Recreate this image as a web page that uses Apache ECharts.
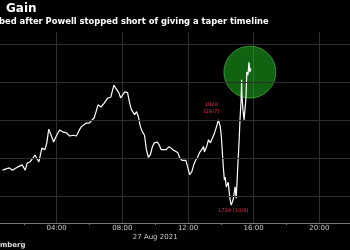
<!DOCTYPE html>
<html><head><meta charset="utf-8">
<script src="https://cdn.jsdelivr.net/npm/echarts@6/dist/echarts.min.js"></script>
<style>html,body{margin:0;padding:0;background:#000;overflow:hidden;width:350px;height:250px;}#c{position:absolute;left:-12px;top:0;width:400px;height:250px;}</style>
</head><body><div id="c"></div>
<script>
const titleText = 'Gain';
const subtitleText = 'bed after Powell stopped short of giving a taper timeline';
const sourceText = 'mberg';
const dateLabel = '27 Aug 2021';
const xTickLabels = ['00:00','04:00','08:00','12:00','16:00','20:00','24:00'];
const gridValues = [1785, 1790, 1795, 1800, 1805];

const times = ['00:42','01:07','01:18','01:36','01:54','02:05','02:12','02:23','02:30','02:41','02:48','02:55','03:06','03:17','03:24','03:31','03:42','03:49','04:00','04:11','04:25','04:36','04:47','05:01','05:12','05:23','05:30','05:37','05:48','05:59','06:06','06:17','06:24','06:31','06:42','06:53','07:00','07:07','07:18','07:22','07:29','07:36','07:47','07:54','08:01','08:09','08:19','08:27','08:34','08:45','08:52','08:59','09:06','09:14','09:21','09:28','09:35','09:42','09:50','09:57','10:08','10:15','10:22','10:29','10:40','10:51','10:58','11:05','11:12','11:23','11:30','11:38','11:45','11:52','11:59','12:06','12:14','12:21','12:28','12:35','12:42','12:50','12:57','13:00','13:08','13:15','13:22','13:29','13:37','13:44','13:51','13:58','14:02','14:05','14:09','14:13','14:16','14:20','14:27','14:31','14:34','14:38','14:41','14:45','14:52','14:56','14:59','15:03','15:07','15:10','15:14','15:16','15:17','15:21','15:25','15:28','15:32','15:35','15:39','15:43','15:46','15:50'];
const prices = [1788.4,1788.7,1788.4,1788.8,1789.1,1788.4,1789.3,1789.5,1789.7,1790.4,1789.9,1789.5,1791.3,1791.1,1792.0,1793.8,1792.8,1792.1,1793.0,1793.7,1793.4,1793.3,1792.9,1793.0,1792.9,1793.7,1794.1,1794.0,1794.6,1794.6,1794.6,1795.3,1796.1,1797.0,1796.7,1797.2,1797.0,1797.9,1798.0,1798.6,1799.6,1799.2,1798.6,1797.9,1798.3,1798.7,1798.6,1797.2,1796.3,1795.7,1796.1,1795.4,1794.1,1793.4,1793.0,1791.1,1790.1,1790.4,1791.5,1792.0,1792.1,1791.7,1791.1,1791.3,1791.1,1791.5,1791.5,1791.1,1791.3,1790.7,1790.0,1789.7,1789.5,1789.7,1788.8,1787.8,1788.2,1789.1,1789.7,1790.1,1790.7,1791.1,1791.5,1790.8,1791.5,1792.4,1792.0,1792.6,1793.3,1794.1,1795.0,1794.1,1792.8,1791.1,1788.8,1787.1,1787.5,1786.2,1786.8,1785.4,1784.5,1783.8,1784.1,1784.5,1786.2,1784.7,1786.7,1789.7,1792.4,1795.0,1797.6,1800.3,1798.3,1796.3,1795.0,1796.3,1798.0,1801.3,1800.9,1802.6,1801.3,1801.8];

const highNote = {time: '13:51', price: 1795.0, text: '1828\n(29/7)'};
const lowNote = {time: '14:38', price: 1783.8, text: '1729 (10/8)'};
const circleCenter = {time: '15:46', price: 1801.3};

const toHours = s => Number(s.slice(0, 2)) + Number(s.slice(3)) / 60;
const lineData = times.map((t, i) => [toHours(t), prices[i]]);

const chart = echarts.init(document.getElementById('c'), null, {renderer: 'canvas'});
const font = 'DejaVu Sans';
const shift = 12;
chart.setOption({
  backgroundColor: '#000',
  animation: false,
  grid: {left: 0, right: 0, top: 32, bottom: 27},
  xAxis: [{
    type: 'value', min: 0, max: 24, interval: 4,
    axisLine: {show: true, lineStyle: {color: '#7a7a7a', width: 1}},
    axisTick: {show: false},
    minorTick: {show: true, splitNumber: 2, length: 2, lineStyle: {color: '#7a7a7a'}},
    axisLabel: {color: '#c8c8c8', fontSize: 7, fontFamily: font, margin: 2,
      showMinLabel: false, showMaxLabel: false,
      formatter: v => xTickLabels[Math.round(v / 4)] || ''},
    splitLine: {show: true, lineStyle: {color: '#2e2e2e', width: 1}}
  }, {
    type: 'value', min: 0, max: 24, interval: 10, position: 'bottom',
    axisLine: {show: false}, axisTick: {show: false}, splitLine: {show: false},
    axisLabel: {color: '#c8c8c8', fontSize: 7, fontFamily: font, margin: 11,
      formatter: v => (v === 10 ? dateLabel : '')}
  }],
  yAxis: {
    type: 'value', min: 1781.45, max: 1806.58,
    axisLine: {show: false}, axisTick: {show: false}, axisLabel: {show: false},
    splitLine: {show: false}
  },
  series: [{
    type: 'line',
    data: lineData,
    showSymbol: false,
    lineStyle: {color: '#ffffff', width: 1.2},
    silent: true,
    markLine: {
      silent: true, symbol: 'none', label: {show: false},
      lineStyle: {color: '#2e2e2e', width: 1, type: 'solid'},
      data: gridValues.map(v => ({yAxis: v}))
    },
    markPoint: {
      symbol: 'circle', symbolSize: 1, itemStyle: {color: 'rgba(0,0,0,0)'},
      data: [
        {coord: [toHours(highNote.time), highNote.price],
          label: {show: true, formatter: highNote.text, position: 'top', distance: 4, offset: [-7, 0],
            color: '#e0304a', fontSize: 5.2, lineHeight: 7, fontFamily: font}},
        {coord: [toHours(lowNote.time), lowNote.price],
          label: {show: true, formatter: lowNote.text, position: 'bottom', distance: 3, offset: [2, 0],
            color: '#e0304a', fontSize: 5.2, fontFamily: font}}
      ]
    }
  }, {
    type: 'scatter',
    data: [[toHours(circleCenter.time), circleCenter.price]],
    symbolSize: 52,
    silent: true,
    itemStyle: {color: 'rgba(35,200,35,0.62)', borderColor: 'rgba(80,210,80,0.7)', borderWidth: 1}
  }],
  graphic: [
    {type: 'text', left: 6 + shift, top: 3, style: {text: titleText, fill: '#ffffff', font: 'bold 12px "DejaVu Sans"'}},
    {type: 'text', left: -1 + shift, top: 18, style: {text: subtitleText, fill: '#ffffff', font: 'bold 8.4px "DejaVu Sans"'}},
    {type: 'text', left: 0 + shift, top: 242, style: {text: sourceText, fill: '#dddddd', font: 'bold 7px "DejaVu Sans"'}}
  ]
});
</script></body></html>
